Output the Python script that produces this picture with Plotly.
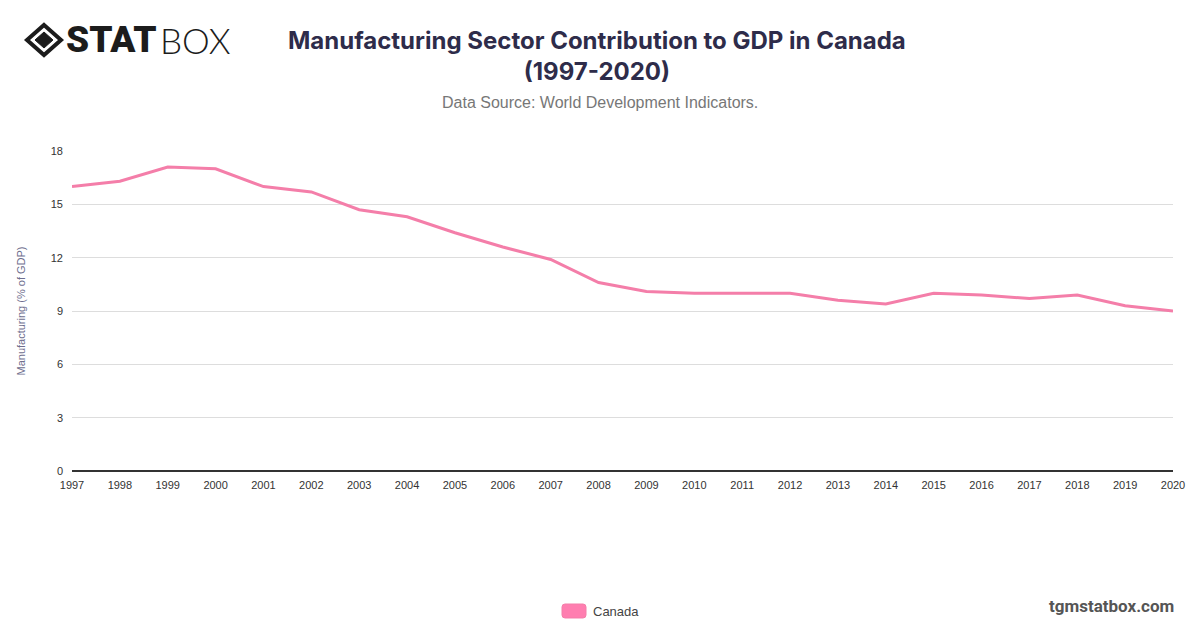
import plotly.graph_objects as go

# data
years = list(range(1997, 2021))
canada = [16.0, 16.3, 17.1, 17.0, 16.0, 15.7, 14.7, 14.3, 13.4, 12.6, 11.9, 10.6,
          10.1, 10.0, 10.0, 10.0, 9.6, 9.4, 10.0, 9.9, 9.7, 9.9, 9.3, 9.0]
y_ticks = [0, 3, 6, 9, 12, 15, 18]

W, H = 1200, 628
L, R, T, B = 72, 27, 151, 157
PW, PH = W - L - R, H - T - B


def px(x):
    return (x - L) / PW


def py(y):
    return (H - B - y) / PH


def path(points):
    return "M " + " L ".join(f"{px(a):.5f},{py(b):.5f}" for a, b in points) + " Z"


def rounded_rect(x0, y0, x1, y1, r):
    p = lambda a, b: f"{px(a):.5f},{py(b):.5f}"
    return (f"M {p(x0 + r, y0)} L {p(x1 - r, y0)} Q {p(x1, y0)} {p(x1, y0 + r)} "
            f"L {p(x1, y1 - r)} Q {p(x1, y1)} {p(x1 - r, y1)} "
            f"L {p(x0 + r, y1)} Q {p(x0, y1)} {p(x0, y1 - r)} "
            f"L {p(x0, y0 + r)} Q {p(x0, y0)} {p(x0 + r, y0)} Z")


fig = go.Figure()
fig.add_trace(go.Scatter(
    x=years, y=canada, mode="lines", name="Canada",
    line=dict(color="#f47ea9", width=3), showlegend=False,
))

fig.update_layout(
    width=W, height=H,
    margin=dict(l=L, r=R, t=T, b=B),
    paper_bgcolor="white", plot_bgcolor="white",
    font=dict(family="Liberation Sans, Arial", color="#444"),
)
fig.update_xaxes(
    range=[1997, 2020], tickmode="array", tickvals=years,
    showgrid=False, showline=False, ticks="", ticklabelstandoff=6,
    tickfont=dict(size=11, color="#333"),
)
fig.update_yaxes(
    range=[0, 18], tickvals=y_ticks, showgrid=True, gridcolor="#dddddd",
    zeroline=True, zerolinecolor="#333", zerolinewidth=1.5,
    ticks="", ticklabelstandoff=8, tickfont=dict(size=11, color="#333"),
    title=dict(text="Manufacturing (% of GDP)", font=dict(size=11, color="#6e6e8e"), standoff=22),
)


def note(text, x, y, size, color, family, xanchor="center", weight=None):
    f = dict(family=family, size=size, color=color)
    if weight:
        f["weight"] = weight
    return dict(text=text, x=px(x), y=py(y), xref="paper", yref="paper", showarrow=False,
                xanchor=xanchor, yanchor="middle", font=f, align="center")


ann = [
    note("<b>Manufacturing Sector Contribution to GDP in Canada<br>(1997-2020)</b>",
         597, 56, 24, "#2e2c4a", "Inter"),
    note("Data Source: World Development Indicators.", 600, 102, 16, "#777",
         "Liberation Sans, Arial"),
    note("<b>tgmstatbox.com</b>", 1176, 606, 17, "#555", "Roboto", xanchor="right"),
    note("Canada", 591, 611, 13, "#444", "Liberation Sans, Arial", xanchor="left"),
    note("STAT", 64, 40, 37, "#1c1c1c", "Roboto", xanchor="left", weight=900),
    note("BOX", 158, 40, 35, "#1c1c1c", "Lato", xanchor="left", weight=300),
]
fig.update_layout(annotations=ann)

shapes = [
    # logo icon: outer diamond ring and inner diamond
    dict(type="path", xref="paper", yref="paper",
         path=path([(44, 25), (61, 40), (44, 55), (27, 40)]),
         line=dict(color="#1c1c1c", width=4), fillcolor="rgba(0,0,0,0)"),
    dict(type="path", xref="paper", yref="paper",
         path=path([(44, 32), (53, 40), (44, 48), (35, 40)]),
         line=dict(color="#1c1c1c", width=1), fillcolor="#1c1c1c"),
    # legend swatch
    dict(type="path", xref="paper", yref="paper",
         path=rounded_rect(562, 604, 586, 618, 3),
         line=dict(color="#f47ea9", width=1), fillcolor="#ff7eb0"),
]
fig.update_layout(shapes=shapes)

fig.write_html("out.html", config={"displayModeBar": False},
               post_script="document.body.style.margin='0';")
